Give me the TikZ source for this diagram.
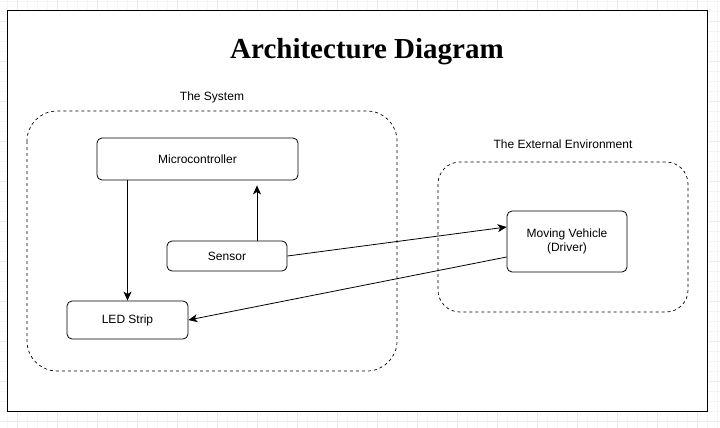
\documentclass[tikz,border=0pt]{standalone}
\usepackage{fontspec}
\setmainfont{Liberation Sans}
\newfontfamily\titlefont{Liberation Serif}
\usetikzlibrary{arrows.meta}
\usetikzlibrary{positioning}

\tikzset{
	block/.style={draw, rounded corners=5pt, line width=0.8pt, font=\fontsize{12}{14}\selectfont, align=center},
	zone/.style={draw, dashed, dash pattern=on 3pt off 3pt, line width=0.7pt},
	link/.style={line width=0.8pt, -{Stealth[length=9pt,width=8pt,inset=2.5pt]}}
}

\begin{document}
\begin{tikzpicture}[x=1pt,y=-1pt]
	\useasboundingbox (0,0) rectangle (720,428);
	% background grid
	\foreach \gx in {7,17,...,717} \draw[black!4, line width=0.5pt] (\gx,0) -- (\gx,428);
	\foreach \gy in {1,11,...,421} \draw[black!4, line width=0.5pt] (0,\gy) -- (720,\gy);
	\foreach \gx in {17,57,...,697} \draw[black!8, line width=0.7pt] (\gx,0) -- (\gx,428);
	\foreach \gy in {21,61,...,421} \draw[black!8, line width=0.7pt] (0,\gy) -- (720,\gy);
	\draw[fill=white, line width=1pt] (7.5,11) rectangle (707,411);
	\node (title) at (367,52){\titlefont\bfseries\fontsize{29}{33}\selectfont Architecture Diagram};
	% the system
	\draw[zone, rounded corners=30pt] (27,111) rectangle (397,371);
	\node[font=\fontsize{12}{14}\selectfont] (sys) at (212,97){The System};
	\node[block, minimum width=201pt, minimum height=42pt] (mc) at (197.5,159){Microcontroller};
	\node[block, minimum width=120pt, minimum height=30pt] (sen) at (227,256){Sensor};
	\node[block, minimum width=121pt, minimum height=38pt] (led) at (127.5,320){LED Strip};
	% the external environment
	\draw[zone, rounded corners=22pt] (438,162) rectangle (688,312);
	\node[font=\fontsize{12}{14}\selectfont] (ext) at (563,144){The External Environment};
	\node[block, minimum width=120pt, minimum height=61pt] (veh) at (567,241.5){Moving Vehicle\\(Driver)};
	% connectors
	\draw[link] (mc.south -| led.north) -- (led.north);
	\draw[link, shorten >=5pt] ([xshift=30pt]sen.north) coordinate (s1) -- (s1 |- mc.south);
	\draw[link] (sen.east) -- ([yshift=14.5pt]veh.west);
	\draw[link] ([yshift=-15.5pt]veh.west) -- (led.east);
\end{tikzpicture}
\end{document}
